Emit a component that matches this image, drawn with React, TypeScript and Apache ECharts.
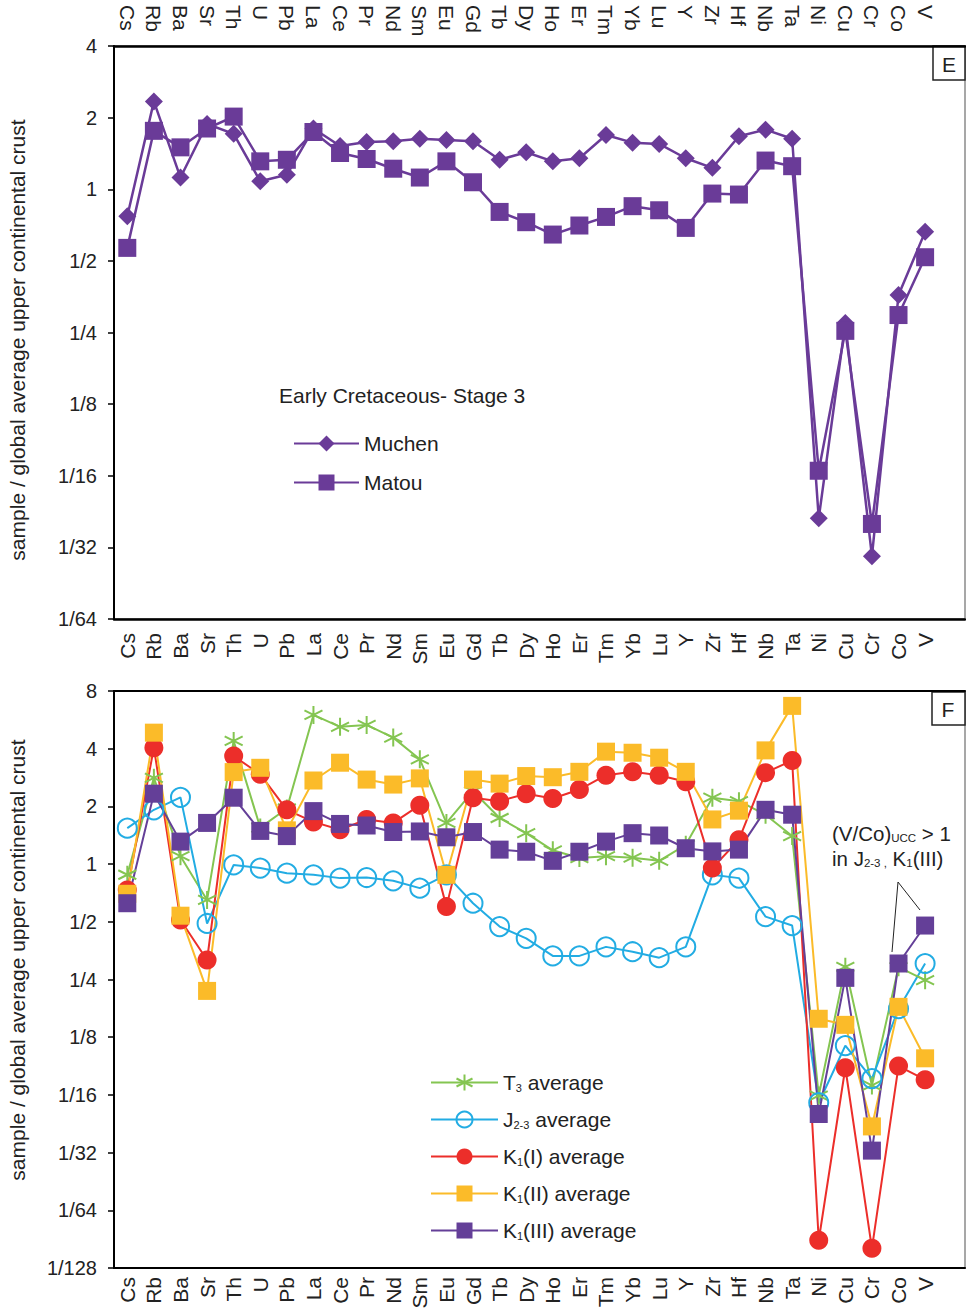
import React, { useEffect, useRef } from "react";
import * as echarts from "echarts";

const elements = ["Cs","Rb","Ba","Sr","Th","U","Pb","La","Ce","Pr","Nd","Sm","Eu","Gd","Tb","Dy","Ho","Er","Tm","Yb","Lu","Y","Zr","Hf","Nb","Ta","Ni","Cu","Cr","Co","V"];

const muchen = [0.77, 2.34, 1.12, 1.88, 1.71, 1.08, 1.15, 1.80, 1.52, 1.58, 1.59, 1.63, 1.61, 1.59, 1.33, 1.43, 1.31, 1.35, 1.69, 1.57, 1.55, 1.35, 1.23, 1.67, 1.78, 1.63, 0.0414, 0.274, 0.0287, 0.359, 0.662];
const matou = [0.567, 1.76, 1.50, 1.80, 2.02, 1.31, 1.33, 1.74, 1.42, 1.34, 1.22, 1.12, 1.31, 1.07, 0.803, 0.727, 0.645, 0.704, 0.765, 0.849, 0.816, 0.688, 0.959, 0.95, 1.32, 1.25, 0.0656, 0.254, 0.0392, 0.296, 0.518];

const t3Avg = [0.88, 2.82, 1.10, 0.65, 4.39, 1.55, 1.95, 6.0, 5.2, 5.32, 4.57, 3.52, 1.64, 2.4, 1.74, 1.45, 1.18, 1.075, 1.10, 1.08, 1.04, 1.26, 2.22, 2.13, 1.81, 1.40, 0.062, 0.291, 0.070, 0.29, 0.248];
const j23Avg = [1.54, 1.92, 2.23, 0.49, 0.99, 0.953, 0.897, 0.879, 0.845, 0.851, 0.818, 0.749, 0.879, 0.625, 0.472, 0.41, 0.332, 0.332, 0.37, 0.349, 0.325, 0.37, 0.879, 0.845, 0.532, 0.478, 0.0569, 0.113, 0.076, 0.176, 0.303];
const k1IAvg = [0.733, 4.05, 0.511, 0.316, 3.66, 2.94, 1.92, 1.66, 1.51, 1.71, 1.64, 2.03, 0.60, 2.22, 2.13, 2.33, 2.2, 2.45, 2.91, 3.03, 2.91, 2.69, 0.953, 1.34, 3.0, 3.47, 0.0109, 0.0866, 0.0099, 0.0884, 0.075];
const k1IIAvg = [0.70, 4.85, 0.538, 0.218, 3.02, 3.18, 1.5, 2.73, 3.38, 2.76, 2.6, 2.8, 0.879, 2.76, 2.63, 2.88, 2.84, 3.03, 3.86, 3.81, 3.59, 3.03, 1.71, 1.90, 3.92, 6.69, 0.156, 0.145, 0.0428, 0.18, 0.097];
const k1IIIAvg = [0.625, 2.33, 1.31, 1.64, 2.22, 1.49, 1.40, 1.89, 1.62, 1.59, 1.47, 1.48, 1.38, 1.47, 1.19, 1.16, 1.04, 1.16, 1.31, 1.45, 1.41, 1.21, 1.165, 1.19, 1.92, 1.81, 0.0497, 0.255, 0.032, 0.303, 0.478];

const topYMin = 1 / 64;
const topYMax = 4;
const botYMin = 1 / 128;
const botYMax = 8;

const FONT = "'Liberation Sans', Arial, sans-serif";
const PURPLE_TOP = "#6a3b98";
const GREEN = "#84c551";
const BLUE = "#22ace3";
const RED = "#ec2e2a";
const YELLOW = "#fbbb29";
const PURPLE = "#643f98";

const ASTERISK = "path://M5 0L5 10M0.67 2.5L9.33 7.5M0.67 7.5L9.33 2.5";

function fracLabel(v: number): string {
  if (v >= 1) return String(Math.round(v));
  return "1/" + Math.round(1 / v);
}

const legendRich: Record<string, string> = {
  "T3 average": "{a|T}{s|3}{a| average}",
  "J2-3 average": "{a|J}{s|2-3}{a| average}",
  "K1(I) average": "{a|K}{s|1}{a|(I) average}",
  "K1(II) average": "{a|K}{s|1}{a|(II) average}",
  "K1(III) average": "{a|K}{s|1}{a|(III) average}",
};

export default function App() {
  const ref = useRef<HTMLDivElement>(null);
  useEffect(() => {
    document.body.style.margin = "0";
    if (!ref.current) return;
    const chart = echarts.init(ref.current, undefined, { renderer: "svg" });
    const cats = [...elements, ""];

    const xLabel = { fontSize: 21, color: "#222", fontFamily: FONT, rotate: 90, interval: 0 };
    const yCommon = (gridIndex: number, min: number, max: number, split: number) => ({
      type: "log" as const,
      logBase: 2,
      gridIndex,
      min,
      max,
      splitNumber: split,
      interval: 1,
      axisLine: { show: true, lineStyle: { color: "#000", width: 2 } },
      axisTick: { show: true, inside: false, length: 6, lineStyle: { color: "#000", width: 1.5 } },
      splitLine: { show: false },
      axisLabel: { fontSize: 20, color: "#222", fontFamily: FONT, margin: 17, formatter: (v: number) => fracLabel(v) },
    });

    const lineSeries = (name: string, data: number[], color: string, symbol: string, size: number, xi: number, yi: number, width: number, itemStyle?: any) => ({
      type: "line" as const,
      name,
      data,
      xAxisIndex: xi,
      yAxisIndex: yi,
      symbol,
      symbolSize: size,
      color,
      lineStyle: { color, width },
      itemStyle: itemStyle || { color },
      emphasis: { disabled: true },
    });

    const richA = { fontSize: 21, color: "#222", fontFamily: FONT, lineHeight: 21 };
    const richS = { fontSize: 11, color: "#222", fontFamily: FONT, lineHeight: 21, padding: [10, 0, 0, 0] };

    chart.setOption({
      animation: false,
      grid: [
        { left: 114, top: 46, width: 851, height: 573, show: true, borderColor: "#8a8a8a", borderWidth: 1.5, containLabel: false, outerBoundsMode: "none" },
        { left: 114, top: 691, width: 851, height: 577, show: true, borderColor: "#8a8a8a", borderWidth: 1.5, containLabel: false, outerBoundsMode: "none" },
      ],
      xAxis: [
        {
          type: "category", gridIndex: 0, position: "bottom", data: cats, boundaryGap: true,
          axisLine: { lineStyle: { color: "#000", width: 2.5 } }, axisTick: { show: false },
          axisLabel: { ...xLabel, margin: 14 },
        },
        {
          type: "category", gridIndex: 0, position: "top", data: cats, boundaryGap: true,
          axisLine: { lineStyle: { color: "#000", width: 2.5 } }, axisTick: { show: false },
          axisLabel: { ...xLabel, margin: 41, align: "left" },
        },
        {
          type: "category", gridIndex: 1, position: "bottom", data: cats, boundaryGap: true,
          axisLine: { lineStyle: { color: "#000", width: 2 } }, axisTick: { show: false },
          axisLabel: { ...xLabel, margin: 9 },
        },
        {
          type: "category", gridIndex: 1, position: "top", data: cats, boundaryGap: true,
          axisLine: { lineStyle: { color: "#000", width: 2 } }, axisTick: { show: false },
          axisLabel: { show: false },
        },
      ],
      yAxis: [yCommon(0, topYMin, topYMax, 8), yCommon(1, botYMin, botYMax, 10)],
      legend: [
        {
          data: ["Muchen", "Matou"],
          orient: "vertical", left: 293, top: 433, itemWidth: 65, itemHeight: 20, itemGap: 18,
          selectedMode: false, padding: 0,
          textStyle: { fontSize: 21, color: "#222", fontFamily: FONT, lineHeight: 20 },
        },
        {
          data: ["T3 average", "J2-3 average", "K1(I) average", "K1(II) average", "K1(III) average"],
          orient: "vertical", left: 430, top: 1072, itemWidth: 67, itemHeight: 20, itemGap: 16,
          selectedMode: false, padding: 0,
          formatter: (n: string) => legendRich[n] || n,
          textStyle: { color: "#222", fontFamily: FONT, fontSize: 21, rich: { a: richA, s: richS } },
        },
      ],
      series: [
        lineSeries("Muchen", muchen, PURPLE_TOP, "diamond", 18, 0, 0, 2.5),
        lineSeries("Matou", matou, PURPLE_TOP, "rect", 18, 0, 0, 2.5),
        lineSeries("T3 average", t3Avg, GREEN, ASTERISK, 18, 2, 1, 2, { color: "rgba(0,0,0,0)", borderColor: GREEN, borderWidth: 2 }),
        lineSeries("J2-3 average", j23Avg, BLUE, "circle", 19, 2, 1, 2, { color: "rgba(0,0,0,0)", borderColor: BLUE, borderWidth: 2 }),
        lineSeries("K1(I) average", k1IAvg, RED, "circle", 19, 2, 1, 2),
        lineSeries("K1(II) average", k1IIAvg, YELLOW, "rect", 18, 2, 1, 2),
        lineSeries("K1(III) average", k1IIIAvg, PURPLE, "rect", 18, 2, 1, 2),
      ],
      graphic: [
        {
          type: "text", x: 17, y: 340, rotation: Math.PI / 2,
          style: { text: "sample / global average upper continental crust", fontSize: 21, fill: "#222", fontFamily: FONT, textAlign: "center", textVerticalAlign: "middle" },
        },
        {
          type: "text", x: 17, y: 960, rotation: Math.PI / 2,
          style: { text: "sample / global average upper continental crust", fontSize: 21, fill: "#222", fontFamily: FONT, textAlign: "center", textVerticalAlign: "middle" },
        },
        {
          type: "text", x: 279, y: 395,
          style: { text: "Early Cretaceous- Stage 3", fontSize: 21, fill: "#222", fontFamily: FONT, textVerticalAlign: "middle" },
        },
        { type: "rect", shape: { x: 933, y: 46, width: 32, height: 34 }, style: { fill: "#fff", stroke: "#222", lineWidth: 1.5 } },
        { type: "text", x: 949, y: 64, style: { text: "E", fontSize: 21, fill: "#222", fontFamily: FONT, textAlign: "center", textVerticalAlign: "middle" } },
        { type: "rect", shape: { x: 932, y: 692, width: 33, height: 33 }, style: { fill: "#fff", stroke: "#222", lineWidth: 1.5 } },
        { type: "text", x: 948, y: 709, style: { text: "F", fontSize: 21, fill: "#222", fontFamily: FONT, textAlign: "center", textVerticalAlign: "middle" } },
        {
          type: "text", x: 832, y: 833,
          style: {
            text: "{a|(V/Co)}{s|UCC}{a| > 1}", fontFamily: FONT, textVerticalAlign: "middle",
            rich: { a: { fontSize: 20.5, fill: "#222", fontFamily: FONT, lineHeight: 22 }, s: { fontSize: 11.5, fill: "#222", fontFamily: FONT, lineHeight: 22, padding: [10, 0, 0, 0] } },
          },
        },
        {
          type: "text", x: 832, y: 858,
          style: {
            text: "{a|in J}{s|2-3 ,}{a| K}{s|1}{a|(III)}", fontFamily: FONT, textVerticalAlign: "middle",
            rich: { a: { fontSize: 20.5, fill: "#222", fontFamily: FONT, lineHeight: 22 }, s: { fontSize: 11.5, fill: "#222", fontFamily: FONT, lineHeight: 22, padding: [10, 0, 0, 0] } },
          },
        },
        { type: "line", shape: { x1: 898, y1: 882, x2: 892, y2: 952 }, style: { stroke: "#222", lineWidth: 1 } },
        { type: "line", shape: { x1: 898, y1: 882, x2: 920, y2: 910 }, style: { stroke: "#222", lineWidth: 1 } },
      ],
    });
    return () => chart.dispose();
  }, []);
  return <div ref={ref} style={{ width: 966, height: 1311 }} />;
}
